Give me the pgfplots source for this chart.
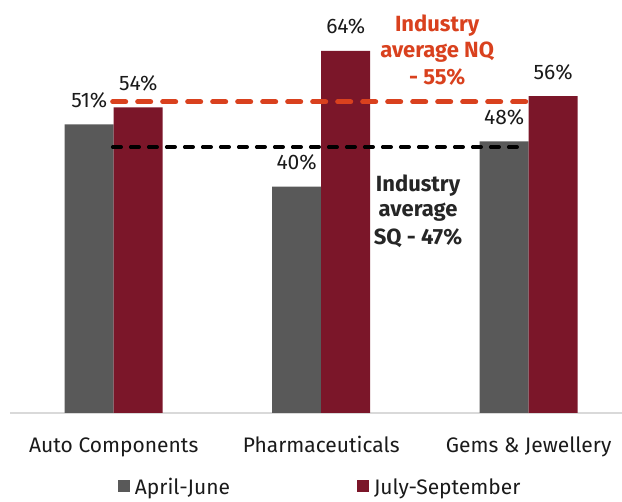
\documentclass[border=0pt]{standalone}
\usepackage{pgfplots}
\pgfplotsset{compat=1.18}
\usepackage{fontspec}
\setmainfont{Fira Sans}
\definecolor{grayb}{HTML}{595959}
\definecolor{redb}{HTML}{7B1629}
\definecolor{nq}{HTML}{D9411E}
\definecolor{sq}{HTML}{262626}
\definecolor{txt}{HTML}{1A1A1A}
\begin{document}
\begin{tikzpicture}
\begin{axis}[
  at={(10pt,89pt)}, anchor=south west,
  scale only axis, width=612pt, height=413pt,
  xmin=-0.5, xmax=2.45, ymin=0, ymax=73,
  ybar=0pt, bar width=49pt,
  axis y line=none,
  axis x line*=bottom,
  x axis line style={draw=black!15, line width=1.5pt, -},
  xtick={0,1,2},
  xticklabels={Auto Components, Pharmaceuticals, Gems \& Jewellery},
  xtick style={draw=none},
  xticklabel style={anchor=base, yshift=-35pt, font=\fontsize{21}{24}\selectfont, text=txt},
  /pgf/number format/assume math mode=true,
  legend style={at={(0.176,-0.207)}, anchor=south west, draw=none, inner sep=0pt,
    font=\fontsize{21}{24}\selectfont, text=txt,
    /tikz/every even column/.append style={column sep=125pt}},
  legend columns=2,
  legend image code/.code={\fill[#1] (0pt,-5pt) rectangle (12pt,7pt); \path (15pt,0pt);},
]
\addplot[fill=grayb, draw=none,
  nodes near coords={\pgfmathprintnumber{\pgfplotspointmeta}\%},
  nodes near coords style={anchor=base, yshift=17pt, font=\fontsize{21}{24}\selectfont, text=txt}]
  coordinates {(0,51) (1,40) (2,48)};
\addlegendentry{April-June}
\addplot[fill=redb, draw=none,
  nodes near coords={\pgfmathprintnumber{\pgfplotspointmeta}\%},
  nodes near coords style={anchor=base, yshift=17pt, font=\fontsize{21}{24}\selectfont, text=txt}]
  coordinates {(0,54) (1,64) (2,56)};
\addlegendentry{July-September}
\addplot[sharp plot, no marks, forget plot, draw=nq, line width=5pt, line cap=round,
  dash pattern=on 13pt off 12pt] coordinates {(-0.005,55) (2.01,55)};
\addplot[sharp plot, no marks, forget plot, draw=black, line width=3.5pt, line cap=round,
  dash pattern=on 8.5pt off 9.5pt] coordinates {(-0.005,47) (1.99,47)};
\node[anchor=base, text=nq, font=\fontsize{22}{26}\selectfont\bfseries] at (axis cs:1.559,67.36) {Industry};
\node[anchor=base, text=nq, font=\fontsize{22}{26}\selectfont\bfseries] at (axis cs:1.559,62.77) {average NQ};
\node[anchor=base, text=nq, font=\fontsize{22}{26}\selectfont\bfseries] at (axis cs:1.559,57.99) {- 55\%};
\node[anchor=base, text=sq, font=\fontsize{22}{26}\selectfont\bfseries] at (axis cs:1.467,39.07) {Industry};
\node[anchor=base, text=sq, font=\fontsize{22}{26}\selectfont\bfseries] at (axis cs:1.467,34.65) {average};
\node[anchor=base, text=sq, font=\fontsize{22}{26}\selectfont\bfseries] at (axis cs:1.467,29.70) {SQ - 47\%};
\end{axis}
\pgfresetboundingbox
\path[use as bounding box] (0,0) rectangle (622pt,502pt);
\end{tikzpicture}
\end{document}
